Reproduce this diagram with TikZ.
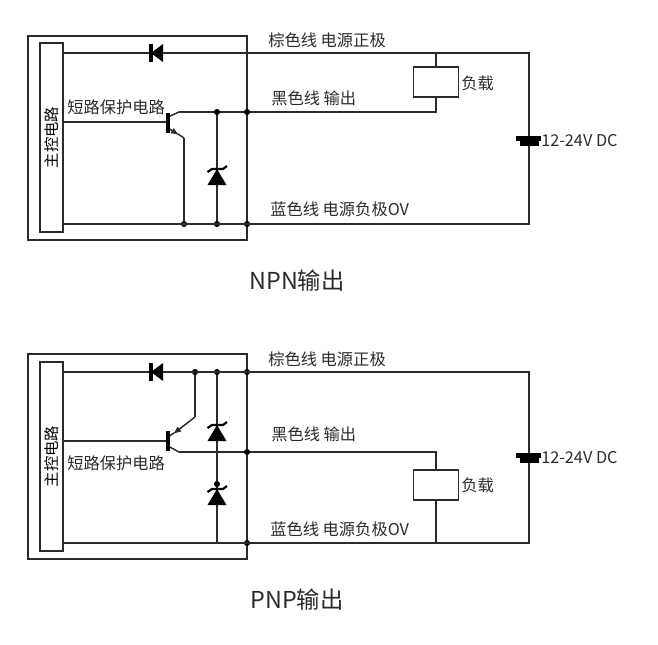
\documentclass[tikz,border=0pt]{standalone}
\usepackage{fontspec}
\setmainfont{Noto Sans CJK SC}
\definecolor{wirecol}{HTML}{2B2B2B}
\tikzset{
  wire/.style={draw=wirecol,line width=1.1pt},
  jdot/.style={circle,fill=black,inner sep=0pt,minimum size=4.6pt},
  ctlbar/.style={draw=wirecol,line width=1.1pt,fill=white,rotate=90,minimum width=141.5pt,minimum height=17pt,inner sep=0pt,font=\fontsize{11.5}{13}\selectfont},
  lbl/.style={anchor=west,inner sep=0pt,text=wirecol,font=\fontsize{12.2}{14}\selectfont},
  captxt/.style={inner sep=0pt,text=wirecol,font=\fontsize{17.5}{20}\selectfont},
  loadbox/.style={draw=wirecol,line width=1.1pt,fill=white,minimum width=34pt,minimum height=22.5pt,inner sep=0pt},
  zener/.pic={
    \fill[black] (0,0)--(-9.5,16)--(9.5,16)--cycle;
    \draw[line width=1.6pt,black] (-9.5,3)--(-5,0)--(6,0)--(10,-3);
  },
  diode/.pic={
    \fill[black] (12,-9)--(12,9)--(0,0)--cycle;
    \draw[line width=2.4pt,black] (0,-9)--(0,9);
  },
  battery/.pic={
    \fill[black] (-13,-5)--(12,-5)--(12,0)--(-13,0)--cycle;
    \fill[black] (-9,0)--(10,0)--(10,5)--(-9,5)--cycle;
  }
}
\begin{document}
\begin{tikzpicture}[x=0.75pt,y=-0.75pt]
\useasboundingbox (0,0) rectangle (658,644);
% NPN
\draw[wire] (28,36) rectangle (247,240);
\coordinate (ctlNa) at (63,53);
\coordinate (ctlNb) at (63,122);
\coordinate (ctlNc) at (63,224);
\coordinate (rightNa) at (529,53);
\coordinate (rightNb) at (529,224);
\coordinate (loadNc) at (436,112);
\coordinate (baseN) at (168,122);
\coordinate (colN) at (179,112);
\coordinate (emiN) at (184,138);
\coordinate (loadNa) at (436,53);
\node[jdot] (dotNa) at (217,112) {};
\node[jdot] (dotNb) at (247,112) {};
\node[jdot] (dotNc) at (184,224) {};
\node[jdot] (dotNd) at (217,224) {};
\node[jdot] (dotNe) at (247,224) {};
\node[loadbox] (loadN) at (436,82) {};
\draw[wire] (ctlNa) -- (rightNa) -- (rightNb) -- (ctlNc);
\draw[wire] (ctlNb) -- (baseN);
\draw[wire] (colN) -- (dotNa) -- (dotNb) -- (loadNc) -- (loadN.south);
\draw[wire] (loadN.north) -- (loadNa);
\draw[wire] (emiN) -- (dotNc);
\draw[wire] (dotNa) -- (dotNd);
\draw[wire] (168,117) -- (colN);
\draw[wire,->,>=latex] (168,128) -- (179,135);
\draw[wire] (178,134) -- (emiN);
\draw[line width=2.4pt,black] (168,113) -- (168,133);
\pic at (151,53) {diode};
\pic at (217,169) {zener};
\pic at (529,141) {battery};
\node[ctlbar] (ctlN) at (51.5,137.5) {主控电路};
\node[lbl] (shortN) at (67,107) {短路保护电路};
\node[lbl] (brownN) at (268,40) {棕色线 电源正极};
\node[lbl] (blackN) at (271,98) {黑色线 输出};
\node[lbl] (blueN) at (270,209) {蓝色线 电源负极OV};
\node[lbl] (loadtxtN) at (461,83) {负载};
\node[lbl] (voltN) at (541,141) {12-24V DC};
\node[captxt] (capN) at (297,281) {NPN输出};
% PNP
\draw[wire] (28,354) rectangle (247,559);
\coordinate (ctlPa) at (63,372);
\coordinate (ctlPb) at (63,441);
\coordinate (ctlPc) at (63,543);
\coordinate (rightPa) at (529,372);
\coordinate (rightPb) at (529,543);
\coordinate (loadPa) at (436,452);
\coordinate (loadPb) at (436,543);
\coordinate (baseP) at (168,441);
\coordinate (colP) at (179,452);
\coordinate (emiP) at (195,417);
\coordinate (zenP) at (217,543);
\node[jdot] (dotPa) at (195,372) {};
\node[jdot] (dotPb) at (217,372) {};
\node[jdot] (dotPc) at (247,372) {};
\node[jdot] (dotPd) at (247,452) {};
\node[jdot] (dotPe) at (217,484) {};
\node[jdot] (dotPf) at (247,543) {};
\node[loadbox] (loadP) at (436,485) {};
\draw[wire] (ctlPa) -- (rightPa) -- (rightPb) -- (ctlPc);
\draw[wire] (ctlPb) -- (baseP);
\draw[wire] (colP) -- (dotPd) -- (loadPa) -- (loadP.north);
\draw[wire] (loadP.south) -- (loadPb);
\draw[wire] (dotPa) -- (emiP);
\draw[wire] (dotPb) -- (dotPe) -- (zenP);
\draw[wire] (168,446) -- (colP);
\draw[wire,->,>=latex] (emiP) -- (173,434);
\draw[wire] (174,433) -- (168,437);
\draw[line width=2.4pt,black] (168,431) -- (168,451);
\pic at (151,372) {diode};
\pic at (217,425) {zener};
\pic at (217,489) {zener};
\pic at (529,458) {battery};
\node[ctlbar] (ctlP) at (51.5,456.5) {主控电路};
\node[lbl] (shortP) at (67,463) {短路保护电路};
\node[lbl] (brownP) at (268,359) {棕色线 电源正极};
\node[lbl] (blackP) at (271,434) {黑色线 输出};
\node[lbl] (blueP) at (270,529) {蓝色线 电源负极OV};
\node[lbl] (loadtxtP) at (461,485) {负载};
\node[lbl] (voltP) at (541,458) {12-24V DC};
\node[captxt] (capP) at (297,600) {PNP输出};
\end{tikzpicture}
\end{document}
